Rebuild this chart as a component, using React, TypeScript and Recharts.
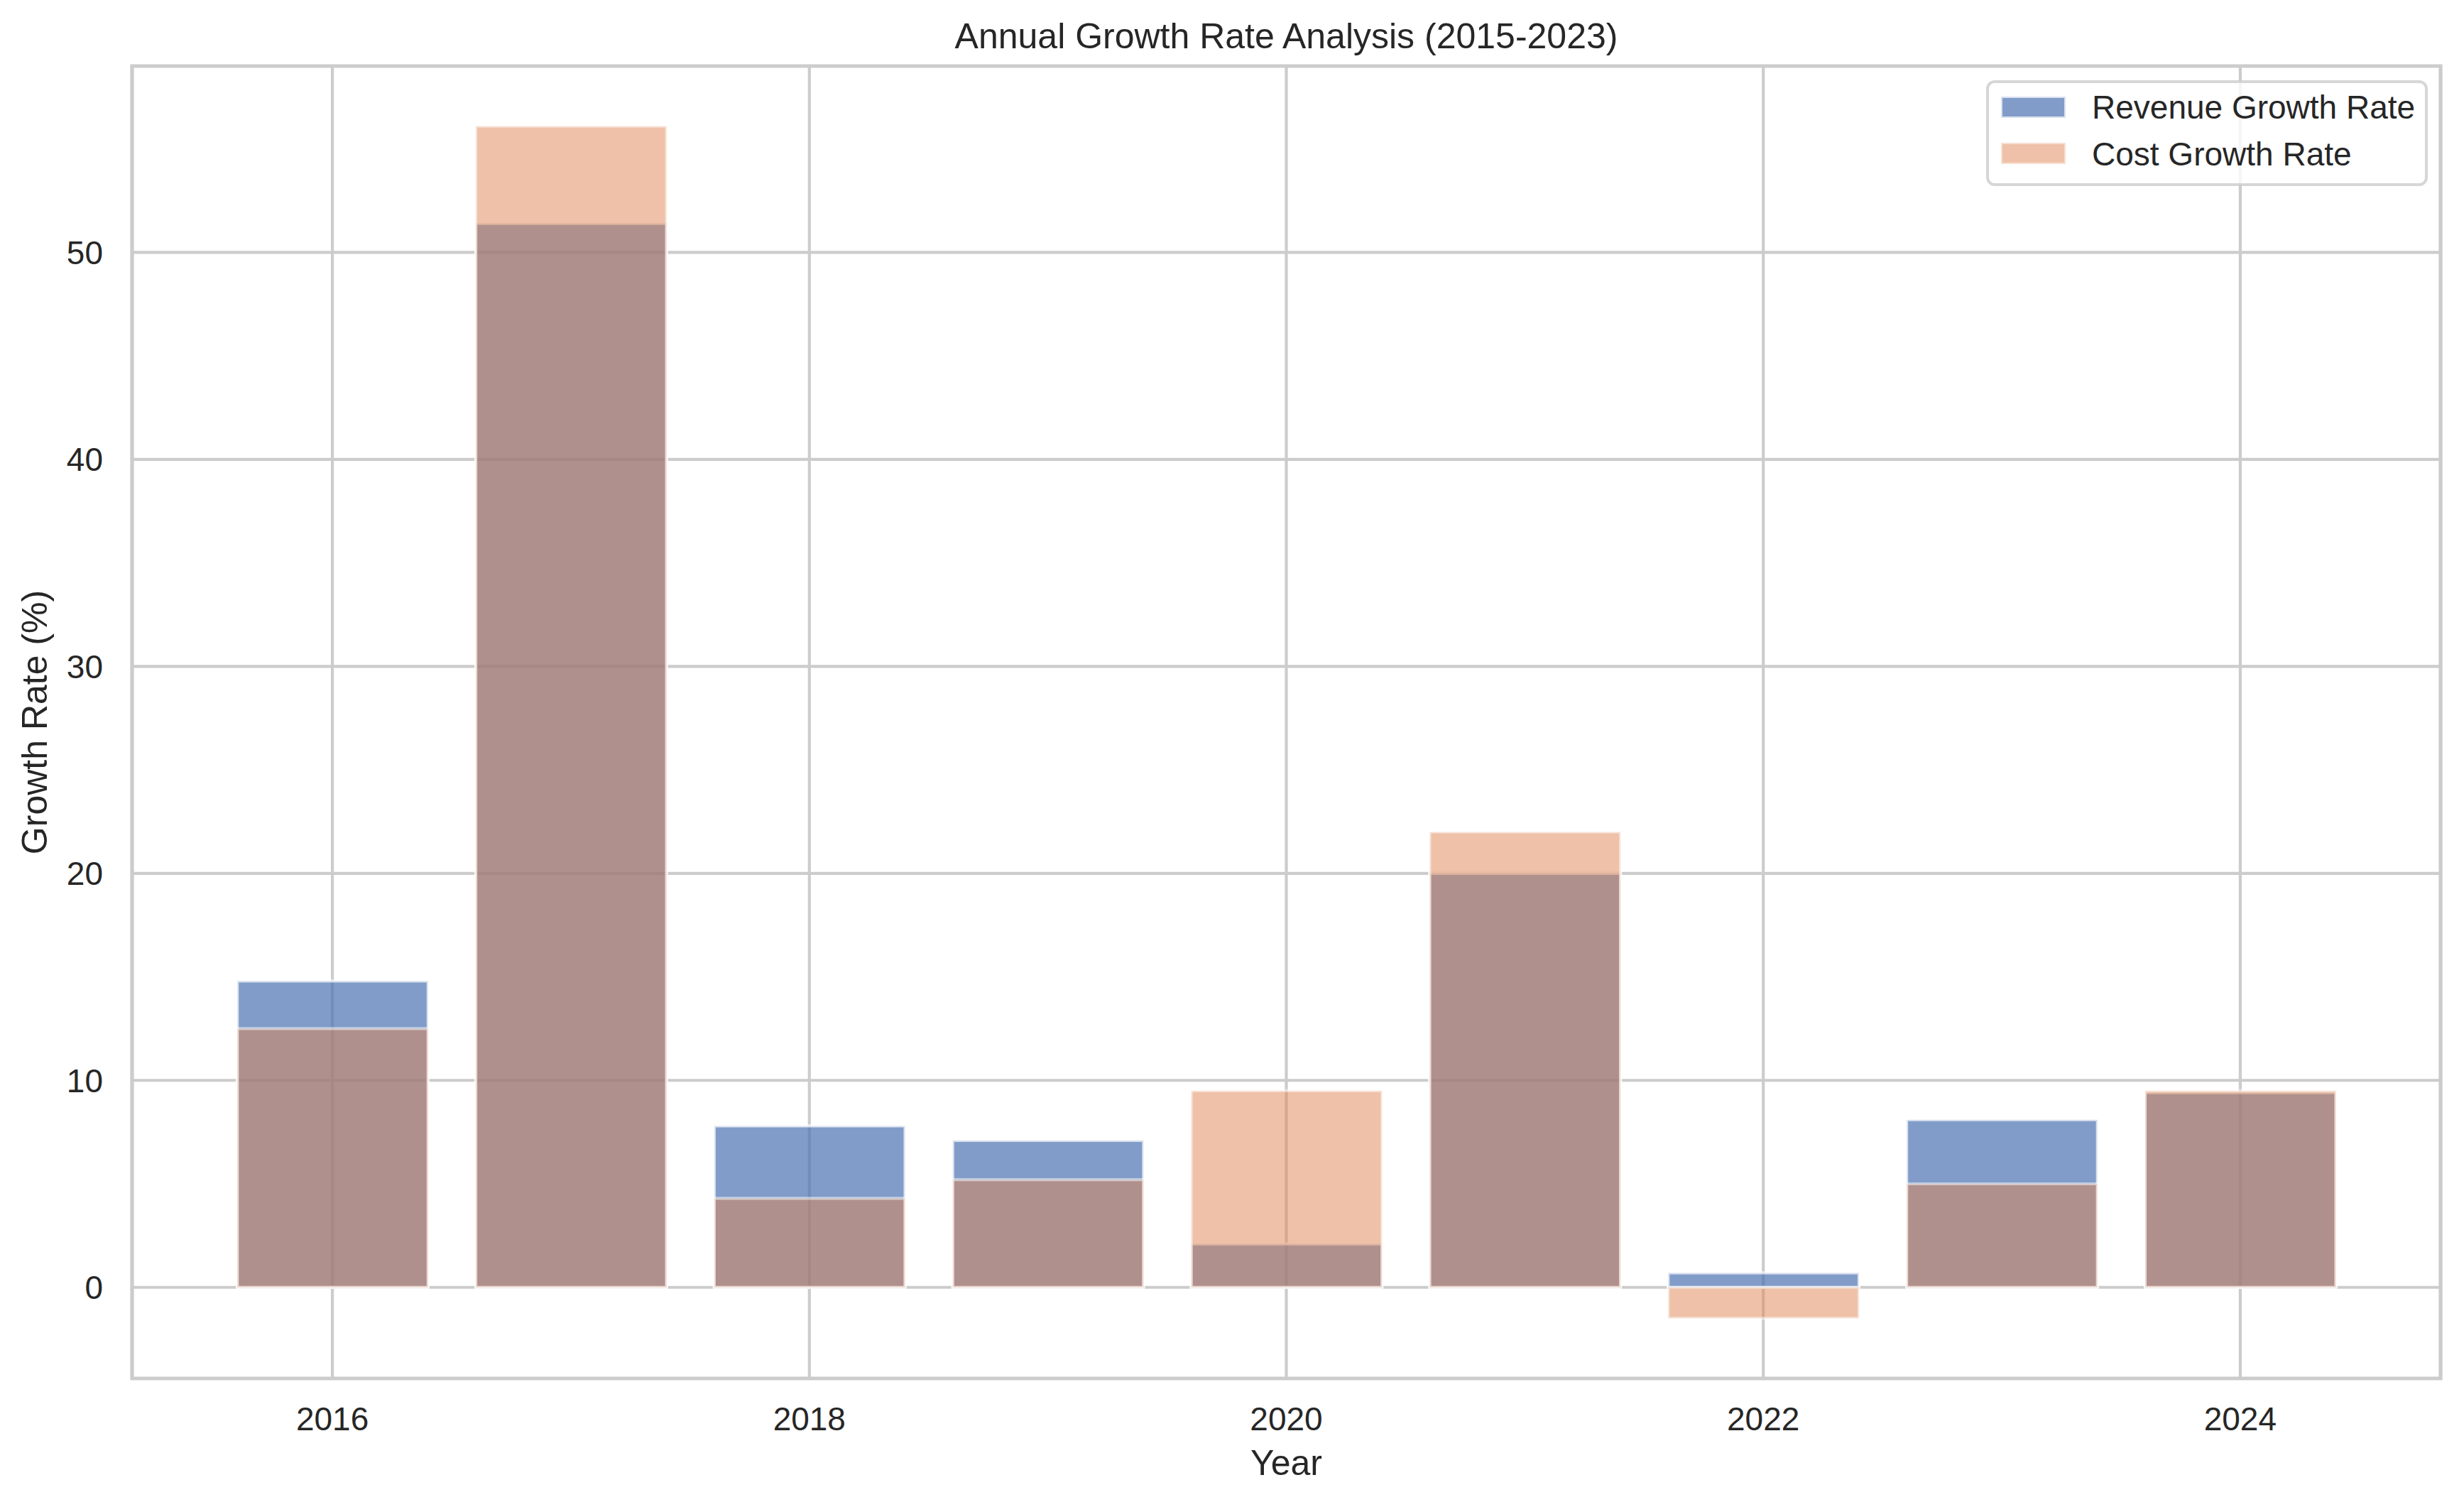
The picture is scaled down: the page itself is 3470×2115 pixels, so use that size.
import { BarChart, Bar, XAxis, YAxis, CartesianGrid, ReferenceArea, Label } from "recharts"

const years = [2016, 2017, 2018, 2019, 2020, 2021, 2022, 2023, 2024]
const revenueGrowth = [14.8, 51.4, 7.8, 7.1, 2.1, 20.0, 0.7, 8.1, 9.4]
const costGrowth = [12.5, 56.1, 4.3, 5.2, 9.5, 22.0, -1.5, 5.0, 9.5]
const xTicks = [2016, 2018, 2020, 2022, 2024]
const yTicks = [0, 10, 20, 30, 40, 50]

const data = years.map((year, i) => ({
  year,
  revenue: revenueGrowth[i],
  cost: costGrowth[i],
}))

const W = 3470
const H = 2115
const plot = { left: 186, right: 3437, top: 93, bottom: 1941 }
const xDomain = [2015.16, 2024.84]
const yDomain = [-4.4, 59.0]
const font = '"Liberation Sans", Arial, sans-serif'
const ink = "#262626"
const gridColor = "#cccccc"

// bars are 0.8 of a year wide, like matplotlib's default
const barWidth = ((plot.right - plot.left) * 0.8) / (xDomain[1] - xDomain[0])

const series = [
  { key: "revenue", name: "Revenue Growth Rate", color: "#4C72B0", alpha: 0.7 },
  { key: "cost", name: "Cost Growth Rate", color: "#DD8452", alpha: 0.5 },
]

const yAxisWidth = 150
const xAxisHeight = 100

function Overlay() {
  const legendX = 2799
  const legendY = 115
  return (
    <svg
      width={W}
      height={H}
      style={{ position: "absolute", left: 0, top: 0, pointerEvents: "none" }}
    >
      <text
        x={(plot.left + plot.right) / 2}
        y={68}
        textAnchor="middle"
        fontSize={50}
        fontFamily={font}
        fill={ink}
      >
        Annual Growth Rate Analysis (2015-2023)
      </text>
      <rect
        x={legendX}
        y={legendY}
        width={618}
        height={145}
        rx={10}
        fill="#ffffff"
        fillOpacity={0.8}
        stroke={gridColor}
        strokeOpacity={0.8}
        strokeWidth={4}
      />
      {series.map((s, i) => (
        <g key={s.key}>
          <rect
            x={legendX + 19}
            y={legendY + 21 + i * 65}
            width={91}
            height={30}
            fill={s.color}
            fillOpacity={s.alpha}
            stroke="#ffffff"
            strokeOpacity={s.alpha}
            strokeWidth={4}
          />
          <text
            x={2946}
            y={legendY + 36 + i * 66}
            dominantBaseline="central"
            fontSize={46}
            fontFamily={font}
            fill={ink}
          >
            {s.name}
          </text>
        </g>
      ))}
    </svg>
  )
}

export default function App() {
  const cy = (plot.top + plot.bottom) / 2
  const cx = (plot.left + plot.right) / 2
  const tickStyle = { fill: ink, fontSize: 46, fontFamily: font }

  return (
    <div
      style={{
        position: "absolute",
        left: 0,
        top: 0,
        width: W,
        height: H,
        background: "#fff",
        fontFamily: font,
      }}
    >
      <BarChart
        width={W}
        height={H}
        data={data}
        barSize={barWidth}
        barGap={-barWidth}
        margin={{
          top: plot.top,
          right: W - plot.right,
          bottom: H - plot.bottom - xAxisHeight,
          left: plot.left - yAxisWidth,
        }}
      >
        <CartesianGrid stroke={gridColor} strokeWidth={4.2} />
        <XAxis
          dataKey="year"
          type="number"
          domain={xDomain}
          allowDataOverflow
          ticks={xTicks}
          height={xAxisHeight}
          axisLine={false}
          tickLine={false}
          tickSize={0}
          tickMargin={40}
          tick={tickStyle}
        >
          <Label
            content={() => (
              <text
                x={cx}
                y={2077}
                textAnchor="middle"
                fontSize={50}
                fontFamily={font}
                fill={ink}
              >
                Year
              </text>
            )}
          />
        </XAxis>
        <YAxis
          type="number"
          domain={yDomain}
          allowDataOverflow
          ticks={yTicks}
          width={yAxisWidth}
          axisLine={false}
          tickLine={false}
          tickSize={0}
          tickMargin={41}
          tick={tickStyle}
        >
          <Label
            content={() => (
              <text
                x={66}
                y={cy}
                transform={`rotate(-90 66 ${cy})`}
                textAnchor="middle"
                fontSize={50}
                fontFamily={font}
                fill={ink}
              >
                Growth Rate (%)
              </text>
            )}
          />
        </YAxis>
        {series.map((s) => (
          <Bar
            key={s.key}
            dataKey={s.key}
            name={s.name}
            fill={s.color}
            fillOpacity={s.alpha}
            stroke="#ffffff"
            strokeOpacity={s.alpha}
            strokeWidth={4.2}
            isAnimationActive={false}
          />
        ))}
        <ReferenceArea
          x1={xDomain[0]}
          x2={xDomain[1]}
          y1={yDomain[0]}
          y2={yDomain[1]}
          fill="none"
          stroke={gridColor}
          strokeWidth={5.2}
          ifOverflow="visible"
        />
      </BarChart>
      <Overlay />
    </div>
  )
}
